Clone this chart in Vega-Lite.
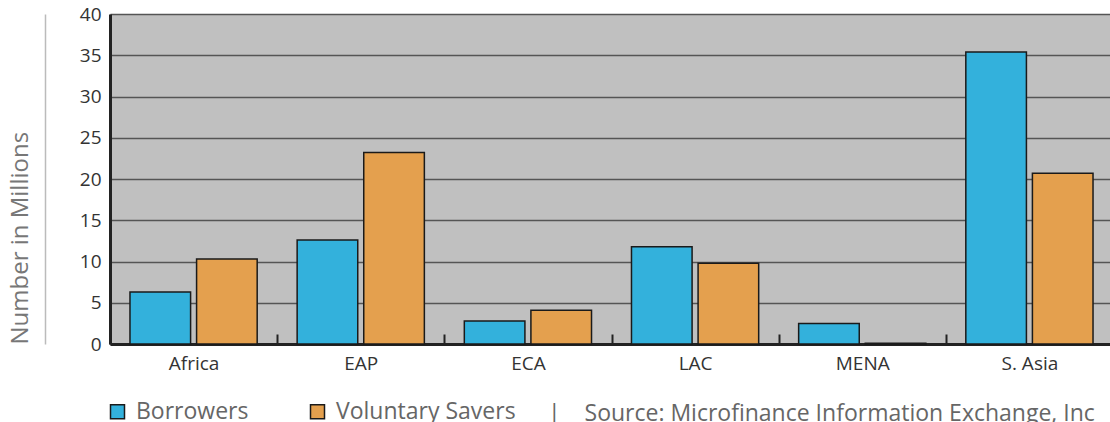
{
  "$schema": "https://vega.github.io/schema/vega-lite/v6.json",
  "autosize": "none",
  "padding": {"left": 110, "top": 14, "right": 0, "bottom": 78},
  "width": 1003,
  "height": 330,
  "background": "white",
  "config": {
    "view": {"fill": "#c0c0c0", "stroke": null},
    "font": "Open Sans"
  },
  "data": {
    "values": [
      {"region": "Africa", "series": "Borrowers", "value": 6.3},
      {"region": "Africa", "series": "Voluntary Savers", "value": 10.3},
      {"region": "EAP", "series": "Borrowers", "value": 12.6},
      {"region": "EAP", "series": "Voluntary Savers", "value": 23.2},
      {"region": "ECA", "series": "Borrowers", "value": 2.8},
      {"region": "ECA", "series": "Voluntary Savers", "value": 4.1},
      {"region": "LAC", "series": "Borrowers", "value": 11.8},
      {"region": "LAC", "series": "Voluntary Savers", "value": 9.8},
      {"region": "MENA", "series": "Borrowers", "value": 2.5},
      {"region": "MENA", "series": "Voluntary Savers", "value": 0.1},
      {"region": "S. Asia", "series": "Borrowers", "value": 35.4},
      {"region": "S. Asia", "series": "Voluntary Savers", "value": 20.7}
    ]
  },
  "title": {
    "text": "|\u00a0\u00a0\u00a0\u00a0Source: Microfinance Information Exchange, Inc",
    "orient": "bottom",
    "anchor": "start",
    "frame": "group",
    "dx": 438,
    "dy": -21,
    "offset": 0,
    "fontSize": 23,
    "fontWeight": "normal",
    "color": "#666666",
    "font": "Open Sans"
  },
  "resolve": {"axis": {"y": "independent"}},
  "layer": [
    {
      "mark": {"type": "bar", "stroke": "#1a1a1a", "strokeWidth": 1.5},
      "encoding": {
        "x": {
          "field": "region",
          "type": "nominal",
          "sort": null,
          "scale": {"paddingInner": 0, "paddingOuter": 0},
          "axis": {
            "title": null,
            "labelAngle": 0,
            "tickBand": "extent",
            "ticks": true,
            "tickSize": -10,
            "tickWidth": 2,
            "tickColor": "#222222",
            "domainColor": "#222222",
            "domainWidth": 3,
            "labelFontSize": 19,
            "labelColor": "#333333",
            "labelPadding": 20,
            "labelFont": "Open Sans"
          }
        },
        "xOffset": {
          "field": "series",
          "type": "nominal",
          "scale": {"paddingInner": 0.09, "paddingOuter": 0.3}
        },
        "y": {
          "field": "value",
          "type": "quantitative",
          "scale": {"domain": [0, 40]},
          "axis": {
            "title": null,
            "values": [0, 5, 10, 15, 20, 25, 30, 35, 40],
            "ticks": false,
            "domainColor": "#222222",
            "domainWidth": 3,
            "gridColor": "#555555",
            "gridWidth": 1.5,
            "labelFontSize": 19,
            "labelColor": "#333333",
            "labelPadding": 9,
            "labelFont": "Open Sans"
          }
        },
        "color": {
          "field": "series",
          "type": "nominal",
          "scale": {"domain": ["Borrowers", "Voluntary Savers"], "range": ["#33b1dc", "#e4a04e"]},
          "legend": {
            "title": null,
            "orient": "none",
            "legendX": -4,
            "legendY": 386,
            "direction": "horizontal",
            "symbolType": "square",
            "symbolSize": 196,
            "symbolStrokeColor": "#1a1a1a",
            "symbolStrokeWidth": 1.5,
            "symbolOpacity": 1,
            "labelFontSize": 23,
            "labelColor": "#666666",
            "labelFont": "Open Sans",
            "labelOffset": 7,
            "labelLimit": 400,
            "columnPadding": 57
          }
        }
      }
    },
    {
      "mark": {"type": "rule", "opacity": 0},
      "encoding": {
        "y": {
          "field": "value",
          "type": "quantitative",
          "axis": {
            "orient": "left",
            "offset": 65,
            "title": "Number in Millions",
            "titleFontSize": 24,
            "titleFontWeight": "normal",
            "titleColor": "#777777",
            "titleFont": "Open Sans",
            "titleAnchor": "start",
            "titlePadding": 13,
            "labels": false,
            "ticks": false,
            "grid": false,
            "domainColor": "#bbbbbb",
            "domainWidth": 1.5
          }
        }
      }
    }
  ]
}
